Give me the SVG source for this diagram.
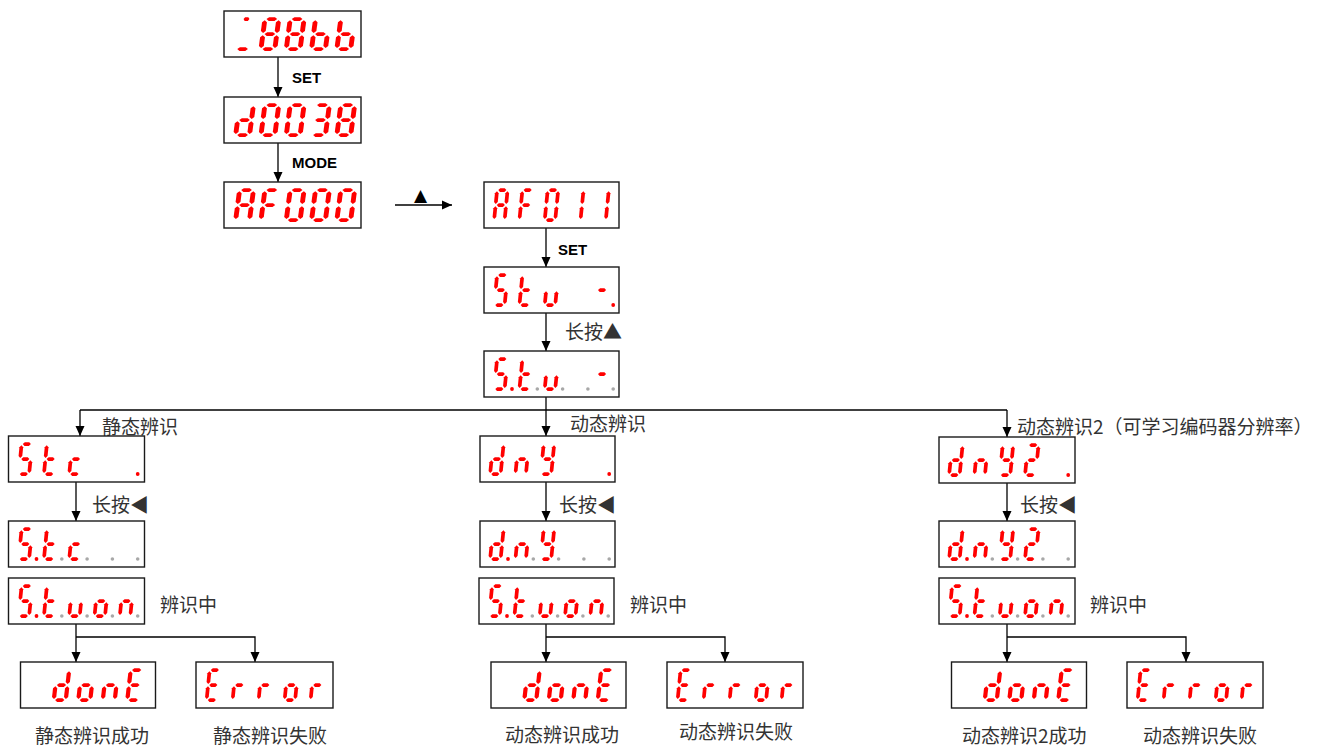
<svg xmlns="http://www.w3.org/2000/svg" xmlns:xlink="http://www.w3.org/1999/xlink" width="1327" height="747" viewBox="0 0 1327 747">
<style>
.box{fill:#fff;stroke:#1a1a1a;stroke-width:1.4}
.seg{fill:#ff0000}
.on{fill:#ff0000}
.off{fill:#a8a8a8}
.conn{stroke:#000;stroke-width:1.3;fill:none}
.lbl{font-family:'Noto Sans CJK SC','Noto Sans',sans-serif;font-size:19px;fill:#333}
.key{font-family:'Liberation Sans',Arial,sans-serif;font-weight:bold;font-size:15px;fill:#000}
</style>
<defs>
<marker id="arr" markerUnits="userSpaceOnUse" markerWidth="10" markerHeight="10" refX="10" refY="4.5" orient="auto" viewBox="0 0 10 9"><path d="M0,0 L10,4.5 L0,9 z" fill="#000"/></marker>
<polygon id="h" class="seg" points="0,0 1.85,-1.85 6.25,-1.85 8.1,0 6.25,1.85 1.85,1.85"/>
<polygon id="v" class="seg" points="0,0 1.85,1.85 1.85,10.75 0,12.6 -1.85,10.75 -1.85,1.85"/>
<use id="sa" href="#h" x="1.2" y="0"/>
<use id="sb" href="#v" x="10.5" y="1.2"/>
<use id="sc" href="#v" x="10.5" y="16.2"/>
<use id="sd" href="#h" x="1.2" y="30"/>
<use id="se" href="#v" x="0" y="16.2"/>
<use id="sf" href="#v" x="0" y="1.2"/>
<use id="sg" href="#h" x="1.2" y="15"/>
<g id="k0" transform="skewX(-5.7)"><use href="#sa"/><use href="#sb"/><use href="#sc"/><use href="#sd"/><use href="#se"/><use href="#sf"/></g>
<g id="k1" transform="skewX(-5.7)"><use href="#sb"/><use href="#sc"/></g>
<g id="k2" transform="skewX(-5.7)"><use href="#sa"/><use href="#sb"/><use href="#sg"/><use href="#se"/><use href="#sd"/></g>
<g id="k3" transform="skewX(-5.7)"><use href="#sa"/><use href="#sb"/><use href="#sg"/><use href="#sc"/><use href="#sd"/></g>
<g id="k8" transform="skewX(-5.7)"><use href="#sa"/><use href="#sb"/><use href="#sc"/><use href="#sd"/><use href="#se"/><use href="#sf"/><use href="#sg"/></g>
<g id="kA" transform="skewX(-5.7)"><use href="#sa"/><use href="#sb"/><use href="#sc"/><use href="#se"/><use href="#sf"/><use href="#sg"/></g>
<g id="kF" transform="skewX(-5.7)"><use href="#sa"/><use href="#sf"/><use href="#se"/><use href="#sg"/></g>
<g id="kb" transform="skewX(-5.7)"><use href="#sf"/><use href="#se"/><use href="#sd"/><use href="#sc"/><use href="#sg"/></g>
<g id="kd" transform="skewX(-5.7)"><use href="#sb"/><use href="#sc"/><use href="#sd"/><use href="#se"/><use href="#sg"/></g>
<g id="kS" transform="skewX(-5.7)"><use href="#sa"/><use href="#sf"/><use href="#sg"/><use href="#sc"/><use href="#sd"/></g>
<g id="kt" transform="skewX(-5.7)"><use href="#sf"/><use href="#se"/><use href="#sd"/><use href="#sg"/></g>
<g id="ku" transform="skewX(-5.7)"><use href="#se"/><use href="#sd"/><use href="#sc"/></g>
<g id="ko" transform="skewX(-5.7)"><use href="#sg"/><use href="#sc"/><use href="#sd"/><use href="#se"/></g>
<g id="kn" transform="skewX(-5.7)"><use href="#se"/><use href="#sg"/><use href="#sc"/></g>
<g id="kY" transform="skewX(-5.7)"><use href="#sf"/><use href="#sb"/><use href="#sg"/><use href="#sc"/><use href="#sd"/></g>
<g id="kc" transform="skewX(-5.7)"><use href="#sg"/><use href="#se"/><use href="#sd"/></g>
<g id="kE" transform="skewX(-5.7)"><use href="#sa"/><use href="#sf"/><use href="#sg"/><use href="#se"/><use href="#sd"/></g>
<g id="kr" transform="skewX(-5.7)"><use href="#se"/><use href="#sg"/></g>
<g id="km" transform="skewX(-5.7)"><use href="#sg"/></g>
<g id="kus" transform="skewX(-5.7)"><use href="#sd"/><use href="#h" transform="translate(3,0) scale(0.55,1)"/></g>
</defs>
<rect width="1327" height="747" fill="#fff"/>

<g id="connectors">
<path class="conn" d="M278,57 V97" marker-end="url(#arr)"/>
<path class="conn" d="M278,143 V182" marker-end="url(#arr)"/>
<path class="conn" d="M395,205 H452" marker-end="url(#arr)"/>
<path class="conn" d="M546,228 V267" marker-end="url(#arr)"/>
<path class="conn" d="M546,313 V351" marker-end="url(#arr)"/>
<path class="conn" d="M546,397 V436" marker-end="url(#arr)"/>
<path class="conn" d="M80,410 H1007"/>
<path class="conn" d="M80,410 V436" marker-end="url(#arr)"/>
<path class="conn" d="M1007,410 V437" marker-end="url(#arr)"/>
<path class="conn" d="M76,482 V521" marker-end="url(#arr)"/>
<path class="conn" d="M546,482 V521" marker-end="url(#arr)"/>
<path class="conn" d="M1007,483 V521" marker-end="url(#arr)"/>
<path class="conn" d="M76,624 V662" marker-end="url(#arr)"/>
<path class="conn" d="M76,637 H255 V662" marker-end="url(#arr)"/>
<path class="conn" d="M546,624 V662" marker-end="url(#arr)"/>
<path class="conn" d="M546,637 H725 V662" marker-end="url(#arr)"/>
<path class="conn" d="M1007,624 V662" marker-end="url(#arr)"/>
<path class="conn" d="M1007,637 H1186 V662" marker-end="url(#arr)"/>
</g>

<g id="labels">
<text class="key" x="292" y="83">SET</text>
<text class="key" x="292" y="168">MODE</text>
<text x="420.5" y="201" text-anchor="middle" font-family="'DejaVu Sans',sans-serif" font-size="17" fill="#000">▲</text>
<text class="key" x="558" y="255">SET</text>
<text class="lbl" x="565" y="338.5">长按▲</text>
<text class="lbl" x="102" y="434">静态辨识</text>
<text class="lbl" x="570" y="431">动态辨识</text>
<text class="lbl" x="1017" y="434">动态辨识2（可学习编码器分辨率）</text>
<text class="lbl" x="92" y="512">长按◀</text>
<text class="lbl" x="559" y="512">长按◀</text>
<text class="lbl" x="1020" y="512">长按◀</text>
<text class="lbl" x="160" y="612">辨识中</text>
<text class="lbl" x="630" y="612">辨识中</text>
<text class="lbl" x="1090" y="612">辨识中</text>
<text class="lbl" x="35" y="743">静态辨识成功</text>
<text class="lbl" x="213" y="743">静态辨识失败</text>
<text class="lbl" x="505" y="742">动态辨识成功</text>
<text class="lbl" x="679" y="739">动态辨识失败</text>
<text class="lbl" x="962" y="743">动态辨识2成功</text>
<text class="lbl" x="1143" y="743">动态辨识失败</text>
</g>

<g id="dispA" transform="translate(224,11)">
<rect class="box" width="137" height="46"/>
<use href="#kus" transform="translate(15.6,8.1) scale(1.32,1)"/>
<use href="#k8" transform="translate(40.9,8.1) scale(1.32,1)"/>
<use href="#k8" transform="translate(66.2,8.1) scale(1.32,1)"/>
<use href="#kb" transform="translate(91.5,8.1) scale(1.32,1)"/>
<use href="#kb" transform="translate(116.8,8.1) scale(1.32,1)"/>
</g>
<g id="dispB" transform="translate(224,97)">
<rect class="box" width="137" height="46"/>
<use href="#kd" transform="translate(15.6,8.1) scale(1.32,1)"/>
<use href="#k0" transform="translate(40.9,8.1) scale(1.32,1)"/>
<use href="#k0" transform="translate(66.2,8.1) scale(1.32,1)"/>
<use href="#k3" transform="translate(91.5,8.1) scale(1.32,1)"/>
<use href="#k8" transform="translate(116.8,8.1) scale(1.32,1)"/>
</g>
<g id="dispC" transform="translate(224,182)">
<rect class="box" width="137" height="46"/>
<use href="#kA" transform="translate(15.6,8.1) scale(1.32,1)"/>
<use href="#kF" transform="translate(40.9,8.1) scale(1.32,1)"/>
<use href="#k0" transform="translate(66.2,8.1) scale(1.32,1)"/>
<use href="#k0" transform="translate(91.5,8.1) scale(1.32,1)"/>
<use href="#k0" transform="translate(116.8,8.1) scale(1.32,1)"/>
</g>
<g id="dispD" transform="translate(484,182)">
<rect class="box" width="135" height="46"/>
<use href="#kA" x="13.1" y="8.1"/><use href="#kF" x="38.4" y="8.1"/><use href="#k0" x="63.7" y="8.1"/><use href="#k1" x="89" y="8.1"/><use href="#k1" x="114.3" y="8.1"/>
</g>
<g id="dispE" transform="translate(484,267)">
<rect class="box" width="135" height="46"/>
<use href="#kS" x="13.1" y="8.1"/><use href="#kt" x="38.4" y="8.1"/><use href="#ku" x="63.7" y="8.1"/><use href="#km" x="114.3" y="8.1"/>
<circle class="on" cx="129.2" cy="38" r="1.9"/>
</g>
<g id="dispF" transform="translate(484,351)">
<rect class="box" width="135" height="46"/>
<use href="#kS" x="13.1" y="8.1"/><use href="#kt" x="38.4" y="8.1"/><use href="#ku" x="63.7" y="8.1"/><use href="#km" x="114.3" y="8.1"/>
<circle class="on" cx="28" cy="38" r="1.9"/><circle class="off" cx="53.3" cy="38" r="1.8"/><circle class="off" cx="78.6" cy="38" r="1.8"/><circle class="off" cx="103.9" cy="38" r="1.8"/><circle class="off" cx="129.2" cy="38" r="1.8"/>
</g>

<g id="dispL1" transform="translate(8.5,436)">
<rect class="box" width="136" height="46"/>
<use href="#kS" x="13.1" y="8.1"/><use href="#kt" x="38.4" y="8.1"/><use href="#kc" x="63.7" y="8.1"/>
<circle class="on" cx="129.2" cy="38" r="1.9"/>
</g>
<g id="dispL2" transform="translate(8.5,521)">
<rect class="box" width="136" height="46"/>
<use href="#kS" x="13.1" y="8.1"/><use href="#kt" x="38.4" y="8.1"/><use href="#kc" x="63.7" y="8.1"/>
<circle class="on" cx="28" cy="38" r="1.9"/><circle class="off" cx="53.3" cy="38" r="1.8"/><circle class="off" cx="78.6" cy="38" r="1.8"/><circle class="off" cx="103.9" cy="38" r="1.8"/><circle class="off" cx="129.2" cy="38" r="1.8"/>
</g>
<g id="dispL3" transform="translate(8.5,578)">
<rect class="box" width="136" height="46"/>
<use href="#kS" x="13.1" y="8.1"/><use href="#kt" x="38.4" y="8.1"/><use href="#ku" x="63.7" y="8.1"/><use href="#ko" x="89" y="8.1"/><use href="#kn" x="114.3" y="8.1"/>
<circle class="on" cx="28" cy="38" r="1.9"/><circle class="off" cx="53.3" cy="38" r="1.8"/><circle class="off" cx="78.6" cy="38" r="1.8"/><circle class="off" cx="103.9" cy="38" r="1.8"/><circle class="off" cx="129.2" cy="38" r="1.8"/>
</g>
<g id="dispL4" transform="translate(20.5,662)">
<rect class="box" width="135" height="46"/>
<use href="#kd" transform="translate(36.7,8.1) scale(1.14,1)"/>
<use href="#ko" transform="translate(61.2,8.1) scale(1.14,1)"/>
<use href="#kn" transform="translate(85.7,8.1) scale(1.14,1)"/>
<use href="#kE" transform="translate(110.2,8.1) scale(1.14,1)"/>
</g>
<g id="dispL5" transform="translate(196,662)">
<rect class="box" width="137" height="46"/>
<use href="#kE" x="13.6" y="8.1"/><use href="#kr" x="39.6" y="8.1"/><use href="#kr" x="65.6" y="8.1"/><use href="#ko" x="91.6" y="8.1"/><use href="#kr" x="117.6" y="8.1"/>
</g>

<g id="dispM1" transform="translate(480,436)">
<rect class="box" width="135" height="46"/>
<use href="#kd" x="13.1" y="8.1"/><use href="#kn" x="38.4" y="8.1"/><use href="#kY" x="63.7" y="8.1"/>
<circle class="on" cx="129.2" cy="38" r="1.9"/>
</g>
<g id="dispM2" transform="translate(480,521)">
<rect class="box" width="135" height="46"/>
<use href="#kd" x="13.1" y="8.1"/><use href="#kn" x="38.4" y="8.1"/><use href="#kY" x="63.7" y="8.1"/>
<circle class="on" cx="28" cy="38" r="1.9"/><circle class="off" cx="53.3" cy="38" r="1.8"/><circle class="off" cx="78.6" cy="38" r="1.8"/><circle class="off" cx="103.9" cy="38" r="1.8"/><circle class="off" cx="129.2" cy="38" r="1.8"/>
</g>
<g id="dispM3" transform="translate(479,578)">
<rect class="box" width="135" height="46"/>
<use href="#kS" x="13.1" y="8.1"/><use href="#kt" x="38.4" y="8.1"/><use href="#ku" x="63.7" y="8.1"/><use href="#ko" x="89" y="8.1"/><use href="#kn" x="114.3" y="8.1"/>
<circle class="on" cx="28" cy="38" r="1.9"/><circle class="off" cx="53.3" cy="38" r="1.8"/><circle class="off" cx="78.6" cy="38" r="1.8"/><circle class="off" cx="103.9" cy="38" r="1.8"/><circle class="off" cx="129.2" cy="38" r="1.8"/>
</g>
<g id="dispM4" transform="translate(491,662)">
<rect class="box" width="135" height="46"/>
<use href="#kd" transform="translate(36.7,8.1) scale(1.14,1)"/>
<use href="#ko" transform="translate(61.2,8.1) scale(1.14,1)"/>
<use href="#kn" transform="translate(85.7,8.1) scale(1.14,1)"/>
<use href="#kE" transform="translate(110.2,8.1) scale(1.14,1)"/>
</g>
<g id="dispM5" transform="translate(667,662)">
<rect class="box" width="136" height="46"/>
<use href="#kE" x="13.6" y="8.1"/><use href="#kr" x="39.6" y="8.1"/><use href="#kr" x="65.6" y="8.1"/><use href="#ko" x="91.6" y="8.1"/><use href="#kr" x="117.6" y="8.1"/>
</g>

<g id="dispR1" transform="translate(939,437)">
<rect class="box" width="136" height="46"/>
<use href="#kd" x="13.1" y="8.1"/><use href="#kn" x="38.4" y="8.1"/><use href="#kY" x="63.7" y="8.1"/><use href="#k2" x="89" y="8.1"/>
<circle class="on" cx="129.2" cy="38" r="1.9"/>
</g>
<g id="dispR2" transform="translate(939,521)">
<rect class="box" width="136" height="46"/>
<use href="#kd" x="13.1" y="8.1"/><use href="#kn" x="38.4" y="8.1"/><use href="#kY" x="63.7" y="8.1"/><use href="#k2" x="89" y="8.1"/>
<circle class="on" cx="28" cy="38" r="1.9"/><circle class="off" cx="53.3" cy="38" r="1.8"/><circle class="off" cx="78.6" cy="38" r="1.8"/><circle class="off" cx="103.9" cy="38" r="1.8"/><circle class="off" cx="129.2" cy="38" r="1.8"/>
</g>
<g id="dispR3" transform="translate(939,578)">
<rect class="box" width="136" height="46"/>
<use href="#kS" x="13.1" y="8.1"/><use href="#kt" x="38.4" y="8.1"/><use href="#ku" x="63.7" y="8.1"/><use href="#ko" x="89" y="8.1"/><use href="#kn" x="114.3" y="8.1"/>
<circle class="on" cx="28" cy="38" r="1.9"/><circle class="off" cx="53.3" cy="38" r="1.8"/><circle class="off" cx="78.6" cy="38" r="1.8"/><circle class="off" cx="103.9" cy="38" r="1.8"/><circle class="off" cx="129.2" cy="38" r="1.8"/>
</g>
<g id="dispR4" transform="translate(951.5,662)">
<rect class="box" width="135" height="46"/>
<use href="#kd" transform="translate(36.7,8.1) scale(1.14,1)"/>
<use href="#ko" transform="translate(61.2,8.1) scale(1.14,1)"/>
<use href="#kn" transform="translate(85.7,8.1) scale(1.14,1)"/>
<use href="#kE" transform="translate(110.2,8.1) scale(1.14,1)"/>
</g>
<g id="dispR5" transform="translate(1127,662)">
<rect class="box" width="136" height="46"/>
<use href="#kE" x="13.6" y="8.1"/><use href="#kr" x="39.6" y="8.1"/><use href="#kr" x="65.6" y="8.1"/><use href="#ko" x="91.6" y="8.1"/><use href="#kr" x="117.6" y="8.1"/>
</g>
</svg>
